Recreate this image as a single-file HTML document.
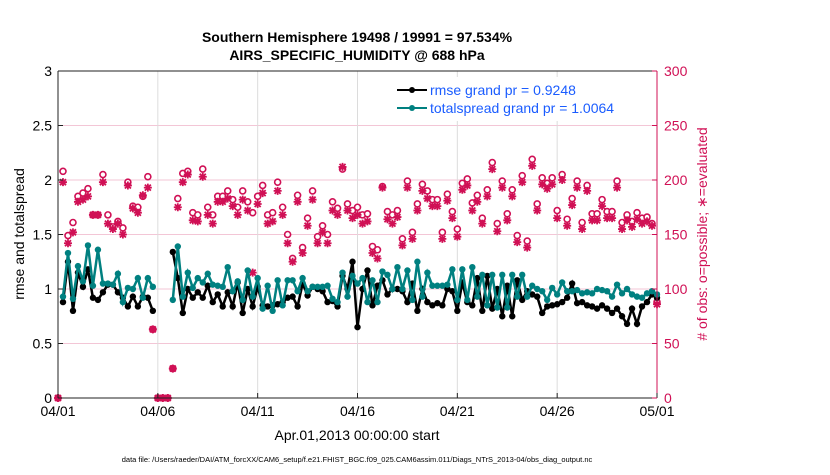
<!DOCTYPE html>
<html><head><meta charset="utf-8"><style>
body{margin:0;background:#fff;width:830px;height:470px;overflow:hidden;font-family:"Liberation Sans",sans-serif}
</style></head><body>
<svg id="chart" width="830" height="470" xmlns="http://www.w3.org/2000/svg">
<text x="357" y="42" text-anchor="middle" font-size="14" font-weight="bold">Southern Hemisphere 19498 / 19991 = 97.534%</text>
<text x="357" y="60" text-anchor="middle" font-size="14" font-weight="bold">AIRS_SPECIFIC_HUMIDITY @ 688 hPa</text>
<g id="grid"></g><g id="marks"></g><g id="axes"></g>
<text x="357" y="440" text-anchor="middle" font-size="14">Apr.01,2013 00:00:00 start</text>
<text transform="translate(24,234) rotate(-90)" text-anchor="middle" font-size="14">rmse and totalspread</text>
<text transform="translate(707,234) rotate(-90)" text-anchor="middle" font-size="14" fill="#d01055"># of obs: o=possible; ∗=evaluated</text>
<text x="357" y="462" text-anchor="middle" font-size="7.5">data file: /Users/raeder/DAI/ATM_forcXX/CAM6_setup/f.e21.FHIST_BGC.f09_025.CAM6assim.011/Diags_NTrS_2013-04/obs_diag_output.nc</text>
<g>
<rect x="383" y="77" width="273" height="44" fill="#fff"/>
<line x1="397" y1="90" x2="427" y2="90" stroke="#000" stroke-width="2"/><circle cx="412" cy="90" r="3" fill="#000"/>
<text x="430" y="95" font-size="14" fill="#1a5cff">rmse grand pr = 0.9248</text>
<line x1="397" y1="108" x2="427" y2="108" stroke="#008080" stroke-width="2"/><circle cx="412" cy="108" r="3" fill="#008080"/>
<text x="430" y="113" font-size="14" fill="#1a5cff">totalspread grand pr = 1.0064</text>
</g>
</svg>
<script>
const xTickLabels=["04/01","04/06","04/11","04/16","04/21","04/26","05/01"];
const yLeftTicks=["0","0.5","1","1.5","2","2.5","3"];
const yRightTicks=["0","50","100","150","200","250","300"];
const rmse=[null,0.88,1.25,0.8,1.15,1.02,1.18,0.92,0.9,0.97,1.04,1.04,0.97,0.92,0.84,0.93,0.84,0.93,0.92,0.8,null,null,null,
1.34,1.1,0.78,1.0,0.92,0.97,0.92,1.03,0.88,0.95,0.84,0.97,0.84,1.06,0.78,1.0,0.84,1.02,0.85,0.84,0.85,0.86,0.88,0.92,0.93,0.84,1.05,0.94,1.02,1.0,0.98,0.88,0.89,0.84,1.12,1.0,1.25,
0.65,1.0,1.17,0.85,1.03,1.08,0.95,1.0,1.0,0.98,0.88,1.05,0.8,1.0,0.88,0.85,0.87,0.85,1.0,0.98,0.8,1.06,0.88,0.85,1.1,0.8,1.12,0.82,1.0,0.75,1.03,0.75,1.08,0.9,0.98,0.95,0.93,0.78,0.84,0.85,0.86,0.88,0.92,1.05,0.87,0.88,0.85,0.84,0.82,0.85,0.82,0.78,0.82,0.75,0.68,0.82,0.68,0.84,0.88,0.95,0.92];
const spread=[null,0.93,1.33,0.91,1.21,1.07,1.40,1.03,1.36,1.05,1.05,1.04,1.14,0.88,1.01,1.0,1.10,0.92,1.10,1.02,null,null,null,
0.9,1.39,0.93,1.15,1.01,1.1,1.06,1.14,1.04,1.03,1.02,1.2,0.98,1.07,0.9,1.17,0.93,1.1,0.82,1.03,0.8,1.08,0.85,1.08,1.08,0.98,1.1,0.98,1.02,1.02,1.02,1.03,0.91,0.88,1.15,0.93,1.12,
1.05,1.1,0.88,1.08,0.88,1.16,1.13,1.0,1.2,1.0,1.17,0.9,1.25,0.93,1.15,1.03,1.03,1.03,1.04,1.18,0.9,1.18,0.9,1.2,0.93,1.13,0.85,1.13,0.83,1.13,0.83,1.13,0.93,1.13,0.93,1.03,1.0,0.98,0.9,1.01,0.95,1.06,0.98,0.98,0.99,0.96,0.97,0.96,1.0,0.99,0.98,0.93,1.04,0.96,1.0,0.95,0.93,0.92,0.96,0.98,0.95];
const possible=[0,208,149,161,185,188,192,168,168,205,168,157,162,156,198,176,175,185,203,63,0,0,0,
27,183,206,208,170,168,210,175,168,185,185,190,182,175,190,180,170,185,195,168,170,198,175,150,128,186,138,165,190,148,158,150,180,174,210,
178,172,175,168,169,139,136,194,171,168,172,146,199,152,178,196,190,182,182,152,187,171,155,197,201,179,186,165,191,216,160,199,169,191,149,204,144,219,178,202,197,202,172,205,164,183,199,161,195,169,169,182,171,171,199,161,168,162,170,165,166,160,88];
const used=[0,198,142,152,180,182,185,168,168,198,160,155,160,150,195,174,170,186,193,63,0,0,0,
27,175,198,205,163,162,203,168,160,180,180,183,176,168,182,172,115,178,188,160,162,190,168,142,125,180,133,158,182,142,152,142,172,168,212,
172,165,168,160,162,133,128,193,164,160,166,140,193,146,172,190,183,176,176,146,181,165,148,191,195,172,180,160,185,210,153,193,163,185,143,198,138,213,172,196,192,196,165,200,158,177,193,155,190,163,163,176,165,165,193,155,163,157,164,160,162,158,86];
const NS="http://www.w3.org/2000/svg";
const L=58,R=657,T=71,B=398;
const xs=i=>L+(R-L)*i/120;
const yl=v=>B-(B-T)*v/3;
const yr=v=>B-(B-T)*v/300;
function mk(tag,attrs,parent){const e=document.createElementNS(NS,tag);for(const k in attrs)e.setAttribute(k,attrs[k]);document.getElementById(parent).appendChild(e);return e;}
yLeftTicks.forEach((t,k)=>{if(k>0&&k<6){const g=mk('line',{x1:L,x2:R,y1:yl(+t),y2:yl(+t),stroke:'#f3c6d6','stroke-width':1},'grid');

}});
xTickLabels.forEach((t,k)=>{if(k>0&&k<6){const g=mk('line',{x1:xs(k*20),x2:xs(k*20),y1:T,y2:B,stroke:'#dcdcdc','stroke-width':1},'grid');

}});
possible.forEach((v,i)=>{if(v==null)return;
const c=mk('circle',{cx:xs(i),cy:yr(v),r:3,fill:'#fff',stroke:'#d01055','stroke-width':1.6},'marks');

});
used.forEach((v,i)=>{if(v==null)return;
const x=xs(i),y=yr(v),s=4;
const d=`M${x-s} ${y}L${x+s} ${y}M${x} ${y-s}L${x} ${y+s}M${x-3} ${y-3}L${x+3} ${y+3}M${x-3} ${y+3}L${x+3} ${y-3}`;
const p=mk('path',{d:d,stroke:'#d01055','stroke-width':1.8,fill:'none'},'marks');

});
function series(arr,col,name){let d='';let pen=false;
arr.forEach((v,i)=>{if(v==null){pen=false;return;}d+=(pen?'L':'M')+xs(i).toFixed(1)+' '+yl(v).toFixed(1)+' ';pen=true;});
const p=mk('path',{d:d,fill:'none',stroke:col,'stroke-width':2.5},'marks');


arr.forEach((v,i)=>{if(v==null)return;const c=mk('circle',{cx:xs(i),cy:yl(v),r:3.2,fill:col},'marks');

});}
series(rmse,'#000','rmse');
series(spread,'#008080','totalspread');
const a1=mk('line',{x1:L,x2:R,y1:B,y2:B,stroke:'#222','stroke-width':1},'axes');


const a2=mk('line',{x1:L,x2:L,y1:T,y2:B,stroke:'#222','stroke-width':1},'axes');


const a3=mk('line',{x1:R,x2:R,y1:T,y2:B,stroke:'#d01055','stroke-width':1},'axes');


const a4=mk('line',{x1:L,x2:R,y1:T,y2:T,stroke:'#222','stroke-width':1},'axes');


xTickLabels.forEach((t,k)=>{const x=xs(k*20);
mk('line',{x1:x,x2:x,y1:B,y2:B-5,stroke:'#222'},'axes');
const e=mk('text',{x:x,y:B+18,'text-anchor':'middle','font-size':14},'axes');e.textContent=t;

});
yLeftTicks.forEach(t=>{const y=yl(+t);
mk('line',{x1:L,x2:L+5,y1:y,y2:y,stroke:'#222'},'axes');
const e=mk('text',{x:L-6,y:y+5,'text-anchor':'end','font-size':14},'axes');e.textContent=t;

});
yRightTicks.forEach(t=>{const y=yr(+t);
mk('line',{x1:R,x2:R-5,y1:y,y2:y,stroke:'#d01055'},'axes');
const e=mk('text',{x:R+7,y:y+5,'font-size':14,fill:'#d01055'},'axes');e.textContent=t;

});
</script>
</body></html>
